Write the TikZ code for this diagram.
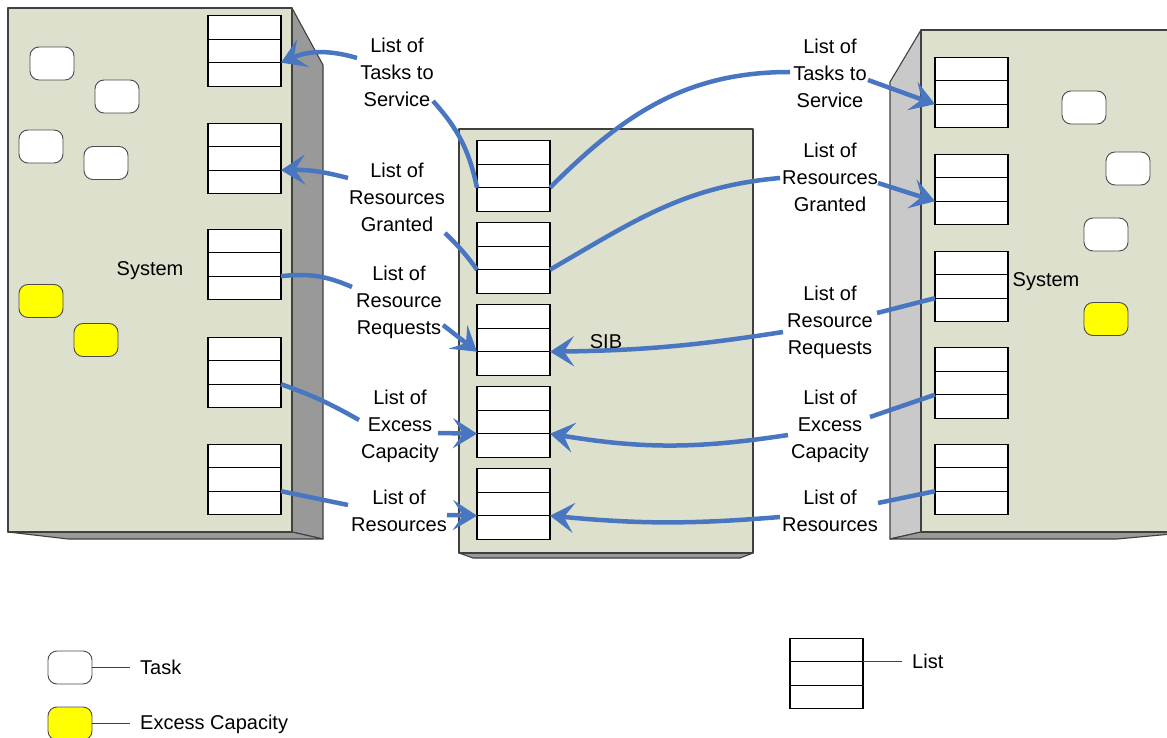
\documentclass[tikz,border=0pt]{standalone}
\usepackage{fontspec}
\setmainfont{Liberation Sans}
\usetikzlibrary{arrows.meta,shapes.multipart}
\definecolor{panelfill}{RGB}{221,224,204}
\definecolor{sidedark}{RGB}{153,153,153}
\definecolor{sidelight}{RGB}{201,201,201}
\definecolor{flowblue}{RGB}{72,118,192}
\definecolor{edgegray}{RGB}{64,64,64}
\definecolor{sparefill}{RGB}{255,255,0}
\begin{document}
\begin{tikzpicture}
[x=1pt,y=-1pt,
  paneldecorate/.style={draw=edgegray,line width=1.1pt,line join=round},%
  listdecorate/.style={rectangle split,rectangle split parts=3,draw,line width=1.1pt,fill=white,
    inner sep=0pt,outer sep=0pt,minimum width=73pt,rectangle split empty part width=1pt,
    rectangle split empty part height=22.3pt,rectangle split empty part depth=0pt},%
  taskdecorate/.style={draw=black!70,line width=0.9pt,fill=white,rounded corners=9pt,
    minimum width=44pt,minimum height=33pt,inner sep=0pt},%
  sparedecorate/.style={taskdecorate,fill=sparefill},%
  labeldecorate/.style={align=center,font=\fontsize{20}{27}\selectfont,inner sep=0pt},%
  linedecorate/.style={draw=flowblue,line width=4.5pt},%
  arrowdecorate/.style={linedecorate,-{Stealth[length=24pt,width=30pt,inset=10pt]}},%
  keydecorate/.style={draw=black!75,line width=0.9pt}]
\useasboundingbox (0,0) rectangle (1167,738);
%%% left system
% panel
\draw[paneldecorate,fill=sidedark] (292,8) -- (323,65) -- (323,539) -- (292,532) -- cycle;
\draw[paneldecorate,fill=sidedark] (8,532) -- (68,539) -- (323,539) -- (292,532) -- cycle;
\draw[paneldecorate,fill=panelfill] (8,8) rectangle (292,532);
% lists
\node (sl1) at (244.5,51) [listdecorate] {};
\node (sl2) at (244.5,158.5) [listdecorate] {};
\node (sl3) at (244.5,264.5) [listdecorate] {};
\node (sl4) at (244.5,372.5) [listdecorate] {};
\node (sl5) at (244.5,479.5) [listdecorate] {};
% tasks
\node (tl1) at (52,63.5) [taskdecorate] {};
\node (tl2) at (117,96.5) [taskdecorate] {};
\node (tl3) at (41,146.5) [taskdecorate] {};
\node (tl4) at (106,163) [taskdecorate] {};
\node (el1) at (41,301) [sparedecorate] {};
\node (el2) at (96,340) [sparedecorate] {};
\node (sysl) at (150,271) [labeldecorate] {System};
%
%%% SIB
% panel
\draw[paneldecorate,fill=sidedark] (459,553) -- (473,558) -- (740,558) -- (753,553) -- cycle;
\draw[paneldecorate,fill=panelfill] (459,129) rectangle (753,553);
% lists
\node (bl1) at (513.5,176) [listdecorate] {};
\node (bl2) at (513.5,258) [listdecorate] {};
\node (bl3) at (513.5,340) [listdecorate] {};
\node (bl4) at (513.5,422) [listdecorate] {};
\node (bl5) at (513.5,504) [listdecorate] {};
\node (sib) at (606,342) [labeldecorate] {SIB};
%
%%% right system
% panel
\draw[paneldecorate,fill=sidelight] (921,30) -- (890,82) -- (890,539) -- (921,532) -- cycle;
\draw[paneldecorate,fill=sidedark] (890,539) -- (921,532) -- (1172,532) -- (1172,534) -- (1117,539) -- cycle;
\draw[paneldecorate,fill=panelfill] (921,30) rectangle (1172,532);
% lists
\node (sr1) at (971.5,92.5) [listdecorate] {};
\node (sr2) at (971.5,189.5) [listdecorate] {};
\node (sr3) at (971.5,286.5) [listdecorate] {};
\node (sr4) at (971.5,383) [listdecorate] {};
\node (sr5) at (971.5,479.5) [listdecorate] {};
% tasks
\node (tr1) at (1084,107.5) [taskdecorate] {};
\node (tr2) at (1128,168.5) [taskdecorate] {};
\node (tr3) at (1106,234.5) [taskdecorate] {};
\node (er1) at (1106,319) [sparedecorate] {};
\node (sysr) at (1046,282) [labeldecorate] {System};
%
%%% flows between systems and SIB
% labels
\node (tasksl) at (397,72) [labeldecorate] {List of\\Tasks to\\Service};
\node (grantl) at (397,197) [labeldecorate] {List of\\Resources\\Granted};
\node (requestl) at (399,302) [labeldecorate] {List of\\Resource\\Requests};
\node (excessl) at (400,426) [labeldecorate] {List of\\Excess\\Capacity};
\node (resourcel) at (399,511) [labeldecorate] {List of\\Resources};
\node (tasksr) at (830,73) [labeldecorate] {List of\\Tasks to\\Service};
\node (grantr) at (830,177) [labeldecorate] {List of\\Resources\\Granted};
\node (requestr) at (830,322) [labeldecorate] {List of\\Resource\\Requests};
\node (excessr) at (830,426) [labeldecorate] {List of\\Excess\\Capacity};
\node (resourcer) at (830,511) [labeldecorate] {List of\\Resources};
% line ends beside the labels
\coordinate (tasksl-w) at (357,58);
\coordinate (tasksl-s) at (433,101);
\coordinate (grantl-w) at (348,178);
\coordinate (grantl-s) at (445,233);
\coordinate (requestl-w) at (352,287);
\coordinate (requestl-e) at (443,325);
\coordinate (excessl-w) at (359,420);
\coordinate (excessl-e) at (438,433);
\coordinate (resourcel-w) at (348,505);
\coordinate (resourcel-e) at (447,515);
\coordinate (tasksr-w) at (790,72);
\coordinate (tasksr-e) at (868,80);
\coordinate (grantr-w) at (780,178);
\coordinate (grantr-e) at (878,183);
\coordinate (requestr-e) at (877,313);
\coordinate (requestr-w) at (783,332);
\coordinate (excessr-e) at (870,417);
\coordinate (excessr-w) at (788,435);
\coordinate (resourcer-e) at (878,503);
\coordinate (resourcer-w) at (780,517);
% left flows
\path
(bl1.two split west) edge[linedecorate,bend right=15] (tasksl-s)
(tasksl-w) edge[arrowdecorate,bend right=20] (sl1.two split east)
(bl2.two split west) edge[linedecorate,bend right=5] (grantl-s)
(grantl-w) edge[arrowdecorate,bend right=8] (sl2.two split east)
(sl3.two split east) edge[linedecorate,bend left=15] (requestl-w)
(requestl-e) edge[arrowdecorate] (bl3.two split west)
(sl4.two split east) edge[linedecorate,bend left=5] (excessl-w)
(excessl-e) edge[arrowdecorate] (bl4.two split west)
(sl5.two split east) edge[linedecorate] (resourcel-w)
(resourcel-e) edge[arrowdecorate] (bl5.two split west);
% right flows
\path
(bl1.two split east) edge[linedecorate,out=45,in=180] (tasksr-w)
(tasksr-e) edge[arrowdecorate] (sr1.two split west)
(bl2.two split east) edge[linedecorate,out=30,in=185] (grantr-w)
(grantr-e) edge[arrowdecorate] (sr2.two split west)
(sr3.two split west) edge[linedecorate] (requestr-e)
(requestr-w) edge[arrowdecorate,bend left=4] (bl3.two split east)
(sr4.two split west) edge[linedecorate] (excessr-e)
(excessr-w) edge[arrowdecorate,bend left=9] (bl4.two split east)
(sr5.two split west) edge[linedecorate] (resourcer-e)
(resourcer-w) edge[arrowdecorate,bend left=5] (bl5.two split east);
%
%%% legend
\node (keytask) at (70,667.5) [taskdecorate] {};
\node (keytasktext) at (140,667.5) [labeldecorate,anchor=west] {Task};
\node (keyspare) at (70,723.5) [sparedecorate] {};
\node (keysparetext) at (140,724.5) [labeldecorate,anchor=west] {Excess Capacity};
\node (keylist) at (826.5,673.5) [listdecorate] {};
\node (keylisttext) at (912,661.5) [labeldecorate,anchor=west] {List};
\path
(keytask.east) edge[keydecorate,shorten >=10pt] (keytasktext.west)
(keyspare.east) edge[keydecorate,shorten >=10pt] (keyspare.east -| keysparetext.west)
(keylist.one split east) edge[keydecorate,shorten >=10pt] (keylist.one split east -| keylisttext.west);
\end{tikzpicture}
\end{document}
